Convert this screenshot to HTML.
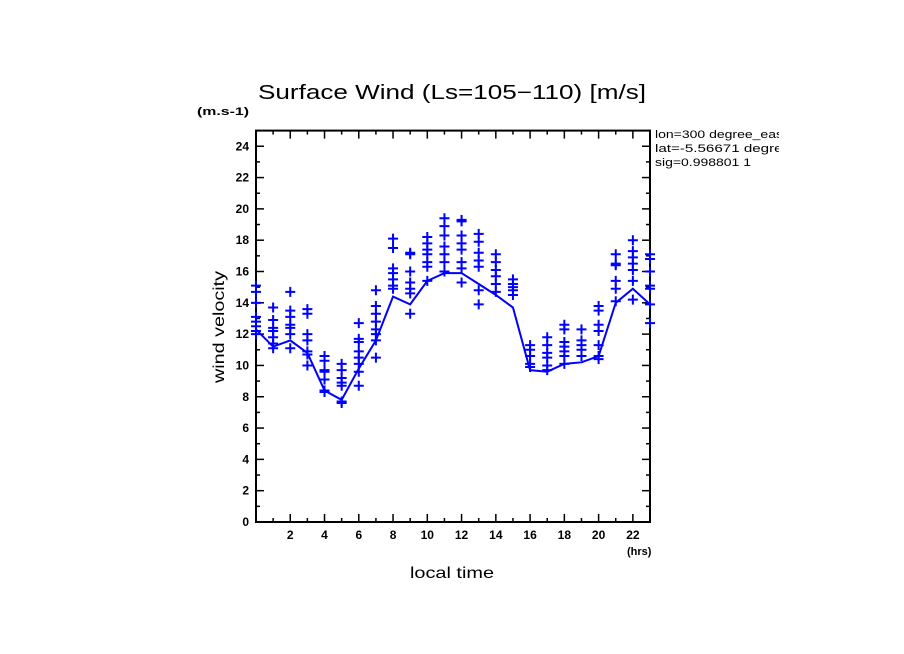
<!DOCTYPE html>
<html><head><meta charset="utf-8"><style>
body{margin:0;background:#fff;}
svg{display:block;font-family:"Liberation Sans",sans-serif;}
</style></head><body>
<svg id="chart" width="904" height="654" viewBox="0 0 904 654">
<rect width="904" height="654" fill="#fff"/>
<text x="258" y="99" font-size="20" textLength="388" lengthAdjust="spacingAndGlyphs">Surface Wind  (Ls=105−110) [m/s]</text>
<text x="197" y="115" font-size="11" font-weight="bold" textLength="52" lengthAdjust="spacingAndGlyphs">(m.s-1)</text>
<text x="627" y="555" font-size="11" font-weight="bold">(hrs)</text>
<text transform="translate(224,327) rotate(-90)" text-anchor="middle" font-size="16" textLength="112" lengthAdjust="spacingAndGlyphs">wind velocity</text>
<text x="410" y="578" font-size="16" textLength="84" lengthAdjust="spacingAndGlyphs">local time</text>
<g font-size="11">
<text x="655" y="138" textLength="128" lengthAdjust="spacingAndGlyphs">lon=300 degree_eas</text>
<text x="655" y="152" textLength="136" lengthAdjust="spacingAndGlyphs">lat=-5.56671 degree</text>
<text x="655" y="166" textLength="96" lengthAdjust="spacingAndGlyphs">sig=0.998801 1</text>
</g>
<rect x="779" y="125" width="40" height="50" fill="#fff"/>
<g id="axes"></g>
<g id="marks"></g>
</svg>
<script>
const hours=[0,1,2,3,4,5,6,7,8,9,10,11,12,13,14,15,16,17,18,19,20,21,22,23];
const meanValues=[12.3,11.2,11.6,10.8,8.4,7.8,9.8,11.6,14.4,13.9,15.4,15.9,15.9,15.2,14.5,13.7,9.7,9.6,10.1,10.2,10.6,14.0,14.9,13.9];
const samples=[
[15.1,14.7,14.0,13.1,12.8,12.5,12.2,12.0],
[13.7,12.9,12.4,12.2,11.8,11.4,11.1],
[14.7,13.5,13.1,12.6,12.4,12.0,11.1],
[13.6,13.3,12.0,11.6,10.9,10.7,10.0],
[10.6,10.3,9.7,9.6,9.1,8.4,8.3],
[10.1,9.7,9.2,8.9,8.7,7.7,7.6],
[12.7,11.7,11.5,10.9,10.5,10.1,9.6,8.7],
[14.8,13.8,13.3,12.8,12.3,12.0,11.6,10.5],
[18.1,17.5,16.2,15.9,15.5,15.1,14.9],
[17.2,17.1,16.0,15.3,14.9,14.6,13.3],
[18.2,17.8,17.4,17.1,16.6,16.3,15.4],
[19.4,18.9,18.3,17.6,17.1,16.6,16.0],
[19.3,19.2,18.3,17.8,17.4,16.6,16.2,15.3],
[18.4,17.9,17.2,16.7,16.3,14.8,13.9],
[17.1,16.6,16.1,15.7,15.2,14.7],
[15.5,15.2,15.0,14.8,14.5],
[11.3,11.0,10.6,10.1,9.9],
[11.8,11.3,10.8,10.5,10.0,9.7],
[12.6,12.3,11.5,11.2,10.9,10.6,10.1],
[12.3,11.6,11.3,11.0,10.6],
[13.8,13.5,12.6,12.2,11.3,10.6,10.4],
[17.1,16.5,16.4,15.4,14.9,14.1],
[18.0,17.3,16.9,16.5,16.1,15.4,14.2],
[17.1,16.8,16.0,15.1,14.9,13.9,12.7]];
const yTickLabels=[0,2,4,6,8,10,12,14,16,18,20,22,24];
const xTickLabels=[2,4,6,8,10,12,14,16,18,20,22];

const X0=256,X1=650,Y0=522,Y1=130.6;
const xs=h=>X0+(h-0)/(23-0)*(X1-X0);
const ys=v=>Y0-(v-0)/(25-0)*(Y0-Y1);
const NS="http://www.w3.org/2000/svg";
function mk(tag,attrs,parent){const e=document.createElementNS(NS,tag);for(const k in attrs)e.setAttribute(k,attrs[k]);parent.appendChild(e);return e;}
const axes=document.getElementById('axes'),marks=document.getElementById('marks');
const frame=mk('rect',{x:X0,y:Y1,width:X1-X0,height:Y0-Y1,fill:'none',stroke:'#000','stroke-width':2},axes);


for(let v=0;v<=25;v++){
  const L=v%2===0?8:4,y=ys(v);
  const t1=mk('line',{x1:X0,x2:X0+L,y1:y,y2:y,stroke:'#000','stroke-width':1.5},axes);
  
  
  mk('line',{x1:X1,x2:X1-L,y1:y,y2:y,stroke:'#000','stroke-width':1.5},axes);
}
yTickLabels.forEach(v=>{
  const t=mk('text',{x:X0-7,y:ys(v)+4,'text-anchor':'end','font-size':12,'font-weight':'bold'},axes);t.textContent=v;
  
  
});
for(let h=0;h<=23;h++){
  const L=h%2===0?8:4,x=xs(h);
  const t=mk('line',{x1:x,x2:x,y1:Y0,y2:Y0-L,stroke:'#000','stroke-width':1.5},axes);
  
  
  mk('line',{x1:x,x2:x,y1:Y1,y2:Y1+L,stroke:'#000','stroke-width':1.5},axes);
}
xTickLabels.forEach(h=>{
  const t=mk('text',{x:xs(h),y:Y0+17,'text-anchor':'middle','font-size':12,'font-weight':'bold'},axes);t.textContent=h;
  
  
});
const line=mk('polyline',{points:hours.map((h,i)=>xs(h)+','+ys(meanValues[i])).join(' '),fill:'none',stroke:'#0000ff','stroke-width':2},marks);


samples.forEach((arr,i)=>arr.forEach(v=>{
  const x=xs(hours[i]),y=ys(v);
  const p=mk('path',{d:`M${x-5},${y}H${x+5}M${x},${y-5}V${y+5}`,stroke:'#0000ff','stroke-width':2},marks);
  
  
}));
</script>
</body></html>
